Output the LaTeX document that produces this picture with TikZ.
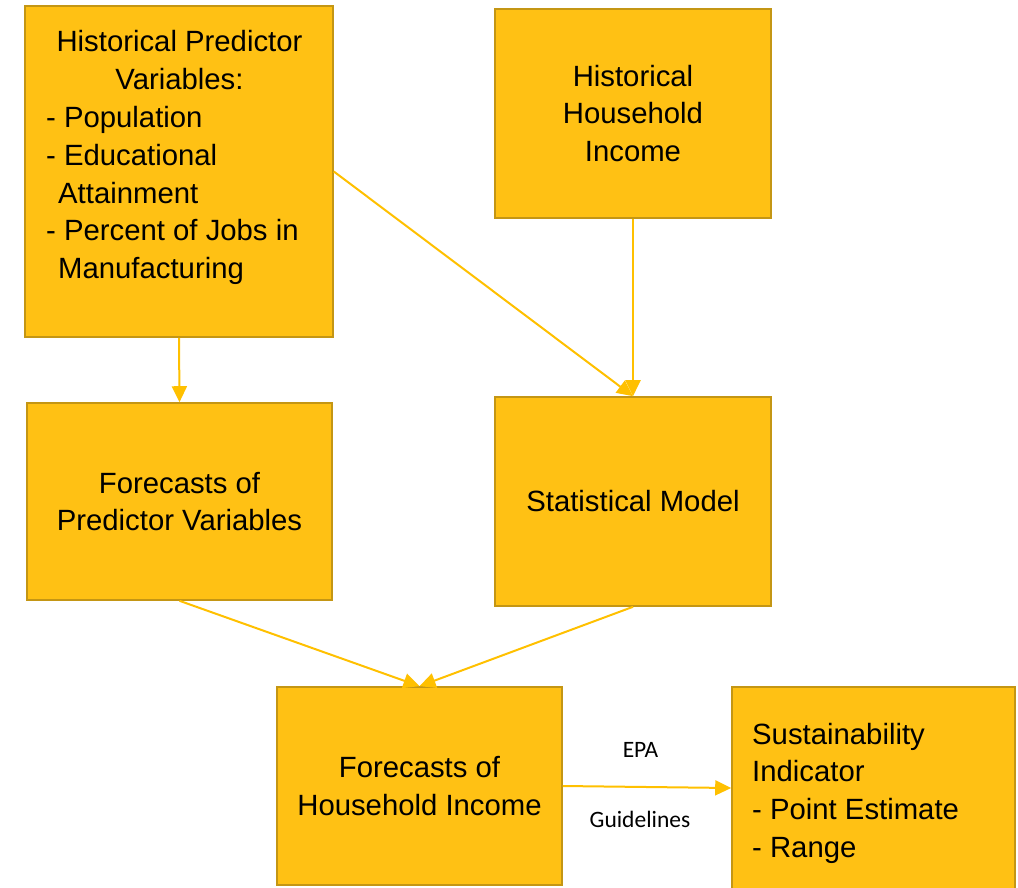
\documentclass[tikz,border=0pt]{standalone}
\usepackage{fontspec}
\setmainfont{Liberation Sans}
\newfontfamily\labelfont{Carlito}
\usetikzlibrary{arrows.meta}
\definecolor{boxfill}{RGB}{255,193,20}
\definecolor{boxline}{RGB}{196,150,20}
\definecolor{flowcol}{RGB}{255,192,0}
\begin{document}
\begin{tikzpicture}[x=1pt,y=-1pt,
  box/.style={draw=boxline, fill=boxfill, line width=1.6pt, inner sep=0pt,
    font=\fontsize{29.3}{37.7}\selectfont, align=center},
  boxtext/.style={font=\fontsize{29.3}{37.7}\selectfont, inner sep=0pt, text=black},
  flow/.style={draw=flowcol, line width=2pt, -{Triangle[length=16pt,width=15pt]}},
  tag/.style={font=\labelfont\fontsize{23.5}{27}\selectfont, inner sep=0pt}]
\path[use as bounding box] (0,0) rectangle (1018,887);

% boxes
\node[box, minimum width=308pt, minimum height=331pt] (hist) at (179,171.5) {};
\node[box, minimum width=276pt, minimum height=209pt] (income) at (633,113.5)
  {Historical\\Household\\Income};
\node[box, minimum width=305pt, minimum height=197pt] (fpred) at (179.5,501.5)
  {Forecasts of\\Predictor Variables};
\node[box, minimum width=276pt, minimum height=209pt] (model) at (633,501.5)
  {Statistical Model};
\node[box, minimum width=285pt, minimum height=198pt] (fincome) at (419.5,786)
  {Forecasts of\\Household Income};
\node[box, minimum width=283pt, minimum height=202pt] (indicator) at (873.5,788) {};

% texts of the two boxes with mixed alignment
\node[boxtext, align=center] (histhead) at (179.5,60)
  {Historical Predictor\\Variables:};
\node[boxtext, align=left, anchor=west] (histlist) at (46,195.5)
  {- Population\\- Educational\\\hspace*{12pt}Attainment\\- Percent of Jobs in\\\hspace*{12pt}Manufacturing};
\node[boxtext, align=left, anchor=west] (indtext) at (752,793)
  {Sustainability\\Indicator\\- Point Estimate\\- Range};

% connectors
\draw[flow] (hist.south) -- (fpred.north);
\draw[flow] (hist.east) -- (model.north);
\draw[flow] (income.south) -- (model.north);
\draw[flow] (fpred.south) -- (fincome.north);
\draw[flow] (model.south) -- (fincome.north);
\draw[flow] (fincome.east) -- (indicator.west);

% labels of the last connector
\node[tag] (epa) at (640.5,749.5) {EPA};
\node[tag] (guide) at (640,819) {Guidelines};
\end{tikzpicture}
\end{document}
